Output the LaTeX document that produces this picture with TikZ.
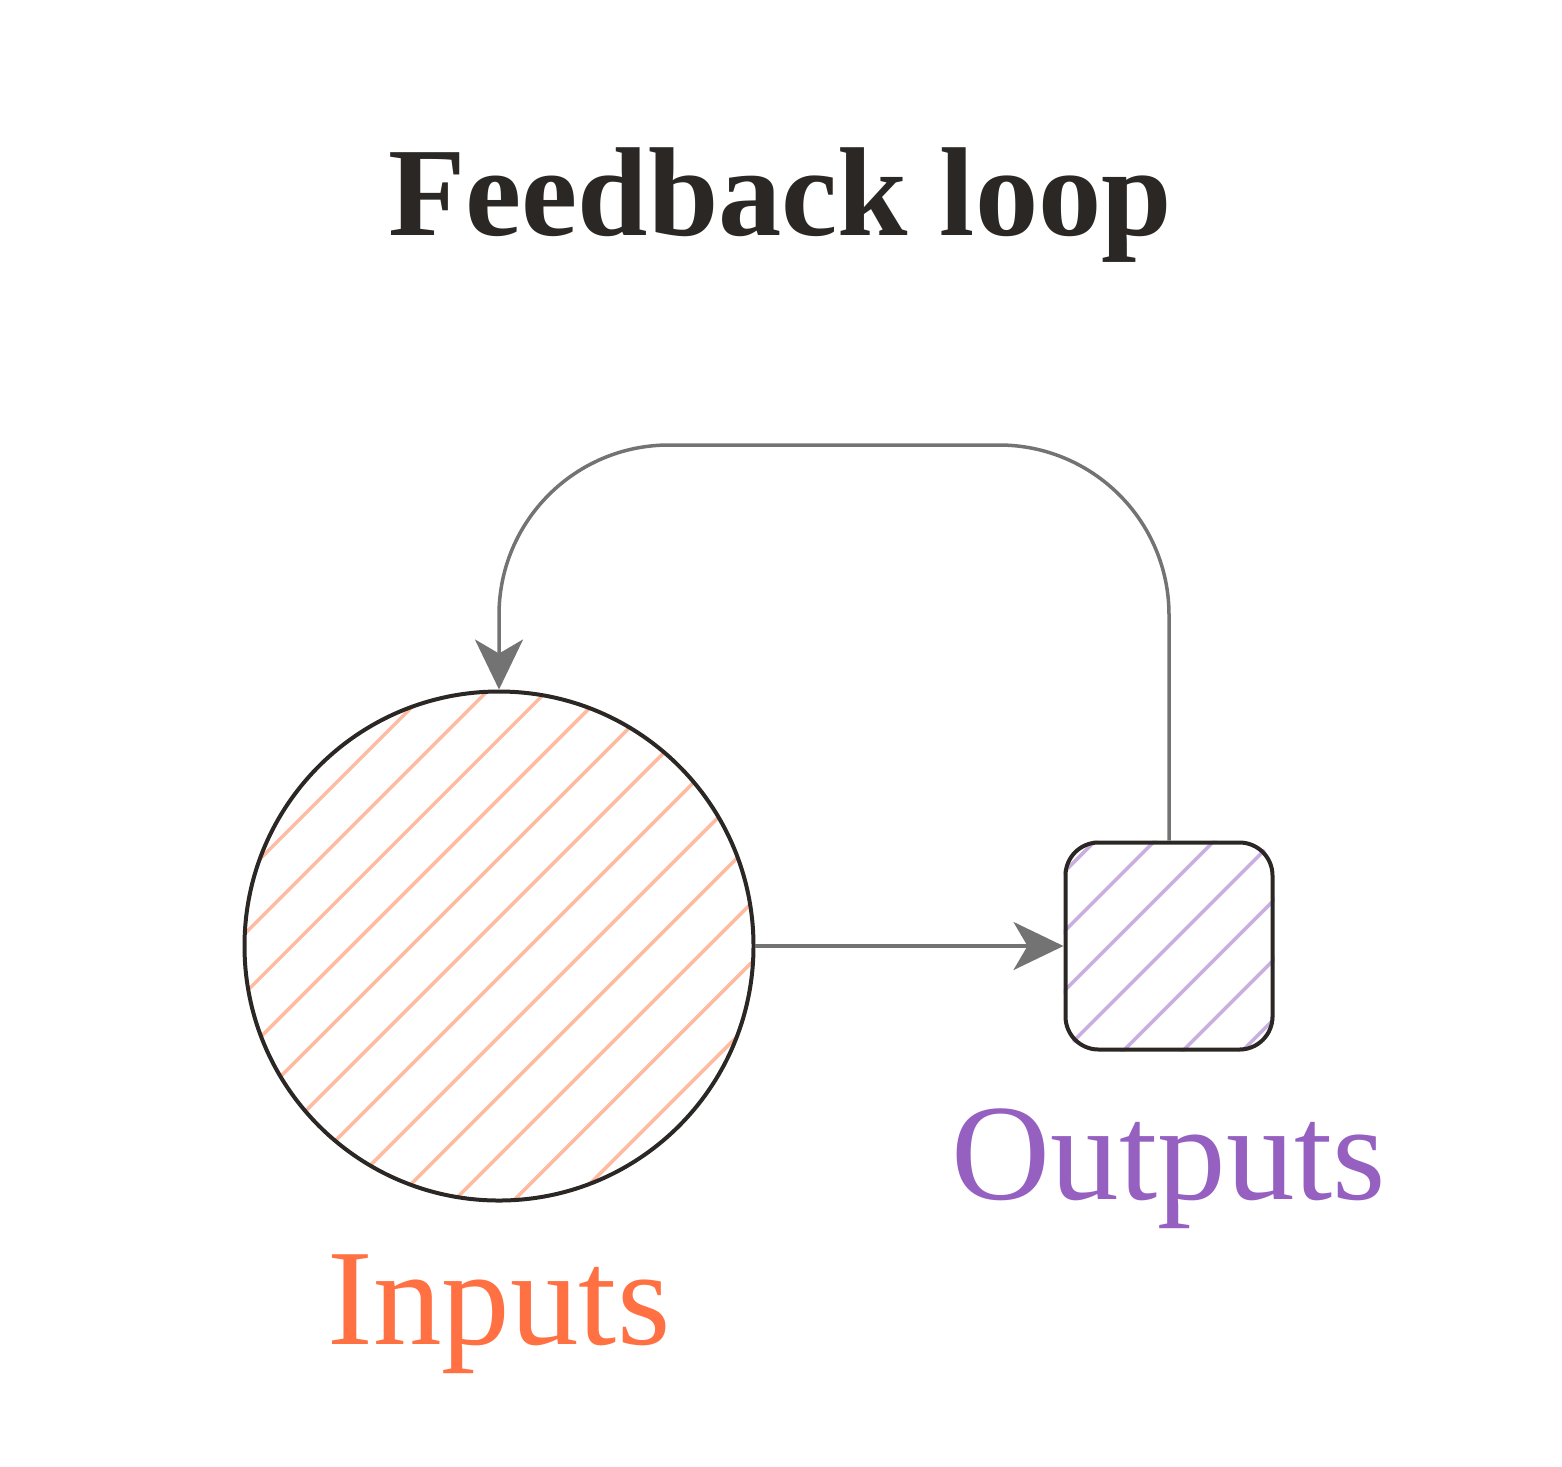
\documentclass[tikz,border=0pt]{standalone}
\usepackage{fontspec}
\setmainfont{Liberation Serif}
\usepackage{xcolor}
\usepackage{tikz}
\usetikzlibrary{arrows.meta, positioning, backgrounds}
\definecolor{ink}{HTML}{2B2724}
\definecolor{wire}{HTML}{737373}
\definecolor{warm}{HTML}{FF7043}
\definecolor{warmhatch}{HTML}{FFBBA0}
\definecolor{violet}{HTML}{9560C0}
\definecolor{violethatch}{HTML}{C9AEE0}
\tikzset{
  flow/.style={draw=wire, line width=0.035cm, -{Stealth[length=0.5cm, width=0.48cm, inset=0.14cm]}},
  shape line/.style={draw=ink, line width=0.04cm, inner sep=0pt},
  hatch/.style={line width=0.035cm},
  big/.style={font=\fontsize{39}{46}\selectfont}
}
\begin{document}
\begin{tikzpicture}[node distance=2.5cm, auto]
        \useasboundingbox (0,0) rectangle (15.62,-14.66);
        \node (title) [anchor=base, font=\fontsize{36}{44}\selectfont\bfseries, text=ink] at (7.8,-2.35) {Feedback loop};
        \node (in) [circle, shape line, minimum size=5.09cm] at (4.99,-9.46) {};
        \node (out) [rectangle, rounded corners=0.33cm, shape line, minimum size=2.07cm, right=3.08cm of in] {};
        \node (inlab) [big, text=warm, below=1.42cm of in, anchor=base] {Inputs};
        \node (outlab) [big, text=violet, below=1.48cm of out, anchor=base] {Outputs};
        \coordinate (loop) at (8.3,-4.45);

        % hatching behind the shapes
        \begin{pgfonlayer}{background}
            \begin{scope}
                \clip (in.center) circle (2.54cm);
                \foreach \n in {-3,...,10}
                    \draw [hatch, warmhatch] (2,{2-12.38-0.595*\n}) -- (8,{8-12.38-0.595*\n});
            \end{scope}
            \begin{scope}
                \clip [rounded corners=0.33cm] (out.south west) rectangle (out.north east);
                \foreach \n in {-1,...,7}
                    \draw [hatch, violethatch] (10,{10-19.36-0.595*\n}) -- (13.5,{13.5-19.36-0.595*\n});
            \end{scope}
        \end{pgfonlayer}

        \draw [flow] (in) -- (out);
        \draw [flow, rounded corners=1.7cm] (out.north) |- (loop) -| (in.north);
    \end{tikzpicture}
\end{document}
